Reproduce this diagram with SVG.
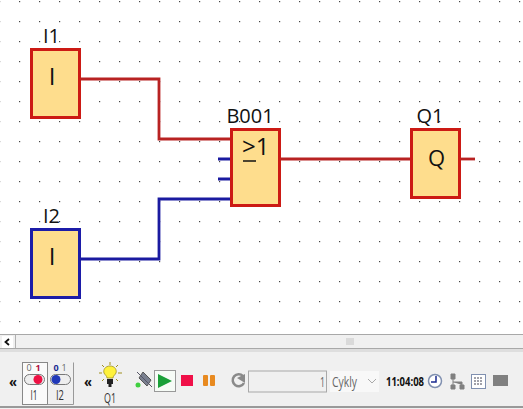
<svg xmlns="http://www.w3.org/2000/svg" width="523" height="409" viewBox="0 0 523 409">
<style>
text{font-family:"Open Sans","Liberation Sans",sans-serif;fill:#111}
.b{fill:#fedd8d;stroke-width:3}
.r{stroke:#cc1a14}.u{stroke:#1c1ca8}
.w{fill:none;stroke-width:2.8}
.wr{stroke:#b82222}.wu{stroke:#1a1aa0}
.lbl{font-size:20px;text-anchor:middle}
.sym{font-size:24px;text-anchor:middle}
.t{font-size:15px;text-anchor:middle;fill:#333}
.o{font-size:9px;text-anchor:middle;fill:#666}
.g{font-size:15px;font-weight:700}
</style>
<defs>
<pattern id="grid" x="19" y="1" width="20" height="20" patternUnits="userSpaceOnUse"><rect width="1.2" height="1.2" fill="#444"/></pattern>
</defs>
<rect width="523" height="409" fill="#fff"/>
<rect width="523" height="333" fill="url(#grid)"/>
<g id="connectors">
<path class="w wr" d="M79 79H159V139H232"/>
<path class="w wu" d="M79 259H159V199H232"/>
<path class="w wu" d="M218 159H232M218 179H232"/>
<path class="w wr" d="M279 159H412"/>
<path class="w wr" d="M459 159H475"/>
</g>
<g id="I1"><text class="lbl" x="51.500" y="43">I1</text><rect class="b r" x="31.500" y="49.500" width="48" height="68"/><text class="sym" x="52" y="85">I</text></g>
<g id="I2"><text class="lbl" x="51.500" y="223">I2</text><rect class="b u" x="31.500" y="229.500" width="48" height="68"/><text class="sym" x="52" y="265">I</text></g>
<g id="B001"><text class="lbl" x="250" y="123">B001</text><rect class="b r" x="231.500" y="129.500" width="48" height="76"/><text class="sym" x="242" y="155" style="text-anchor:start">&gt;1</text><path d="M243 161H256" stroke="#111" stroke-width="1.500"/></g>
<g id="Q1"><text class="lbl" x="430" y="123">Q1</text><rect class="b r" x="411.500" y="129.500" width="48" height="68"/><text class="sym" x="436.500" y="166" style="font-size:22px">Q</text></g>
<g id="scrollbar">
<rect y="333" width="523" height="76" fill="#f0f0f0"/>
<rect y="333" width="523" height="2" fill="#fff"/>
<rect y="349" width="523" height="3" fill="#dedede"/>
<path d="M0 334.500H523M0 348.500H523" stroke="#a8a8a8"/>
<rect x="2" y="336" width="11" height="12" fill="#fff"/>
<path d="M9 339L5.500 342L9 345" fill="none" stroke="#111" stroke-width="1.800"/>
<path d="M15.500 335V348" stroke="#b0b0b0"/>
<path d="M347 338V345M349 338V345M351 338V345M353 338V345" stroke="#c4c4c4"/>
</g>
<g id="toolbar">
<path d="M0 407H523" stroke="#999" stroke-width="2"/>
<text class="g" x="9" y="387" textLength="8" lengthAdjust="spacingAndGlyphs">«</text>
<text class="g" x="84" y="387" textLength="8" lengthAdjust="spacingAndGlyphs">«</text>
<rect x="22.500" y="362.500" width="25" height="42" fill="#fafafa" stroke="#888"/>
<path d="M47.500 404.500H73.500V362.500" fill="none" stroke="#999"/>
<text class="o" x="29" y="371">0</text><text class="o" x="38" y="371" style="font-weight:700;fill:#b01040">1</text>
<rect x="24.500" y="374.500" width="20" height="10" rx="5" fill="#eee" stroke="#777"/><circle cx="38" cy="379.500" r="4.500" fill="#ee1144"/>
<text class="t" x="34" y="400" textLength="7" lengthAdjust="spacingAndGlyphs">I1</text>
<text class="o" x="56" y="371" style="font-weight:700;fill:#1a2a90">0</text><text class="o" x="64" y="371">1</text>
<rect x="50.500" y="374.500" width="20" height="10" rx="5" fill="#eee" stroke="#777"/><circle cx="56" cy="379.500" r="4.500" fill="#2038b8"/>
<text class="t" x="60" y="400" textLength="8" lengthAdjust="spacingAndGlyphs">I2</text>
<path d="M110 366c-5 0-7 4-6 7c1 2 3 3 3 5h6c0-2 2-3 3-5c1-3-1-7-6-7z" fill="#fff23c" stroke="#a09020" stroke-width=".8"/><rect x="107" y="379" width="6" height="5" fill="#222"/><rect x="108.500" y="384" width="3" height="3" fill="#222"/>
<path d="M110 362V365M102 365L104 367M118 365L116 367M99 373H102M118 373H122M102 381L104 379M118 381L116 379" stroke="#a09020"/>
<text class="t" x="110" y="403" textLength="12" lengthAdjust="spacingAndGlyphs">Q1</text>
<circle cx="138" cy="385" r="2.500" fill="#40d040"/>
<path d="M143 372L151 380L147 386L139 378Z" fill="#7a8090" stroke="#555"/><path d="M137 372L152 387" stroke="#556" fill="none"/>
<rect x="154.500" y="370.500" width="21" height="21" fill="#f6fbf6" stroke="#999"/><path d="M158 374L172 381L158 388Z" fill="#1aa038"/>
<rect x="181" y="375" width="12" height="11" fill="#f01048"/>
<rect x="203" y="375" width="5" height="11" rx="1" fill="#e88a20"/><rect x="210" y="375" width="5" height="11" rx="1" fill="#e88a20"/>
<path d="M243 376a6 6 0 1 0 1 7" fill="none" stroke="#8a8a8a" stroke-width="2.500"/><path d="M237 378L245 374V383Z" fill="#8a8a8a"/>
<rect x="248.500" y="371" width="78" height="21" fill="#f0f0f0" stroke="#a8a8a8"/>
<text x="325" y="387" style="font-size:15px;text-anchor:end;fill:#666" textLength="5" lengthAdjust="spacingAndGlyphs">1</text>
<rect x="330" y="371" width="49" height="21" fill="#f8f8f8"/>
<text x="332" y="387" style="font-size:15px;fill:#666" textLength="25" lengthAdjust="spacingAndGlyphs">Cykly</text>
<path d="M368 379L372 383L376 379" fill="none" stroke="#aaa"/>
<text x="386" y="386" style="font-size:13px;font-weight:700" textLength="38" lengthAdjust="spacingAndGlyphs">11:04:08</text>
<circle cx="435" cy="381" r="6.500" fill="#fff" stroke="#8090b0" stroke-width="1.500"/><path d="M436 376V382H431" fill="none" stroke="#1a2a90" stroke-width="1.500"/>
<path d="M451 374h4v5h-4zM451 385h4v4h-4zM460 385h4v4h-4zM453 379V385M453 382H462V385" fill="#808080" stroke="#808080"/>
<rect x="471.500" y="374.500" width="14" height="14" fill="#fff" stroke="#8090b0"/><path d="M474 378h9M474 381h9M474 384h9" stroke="#445" stroke-dasharray="2 1"/>
<rect x="493" y="375" width="15" height="11" fill="#808080"/>
</g>
</svg>
